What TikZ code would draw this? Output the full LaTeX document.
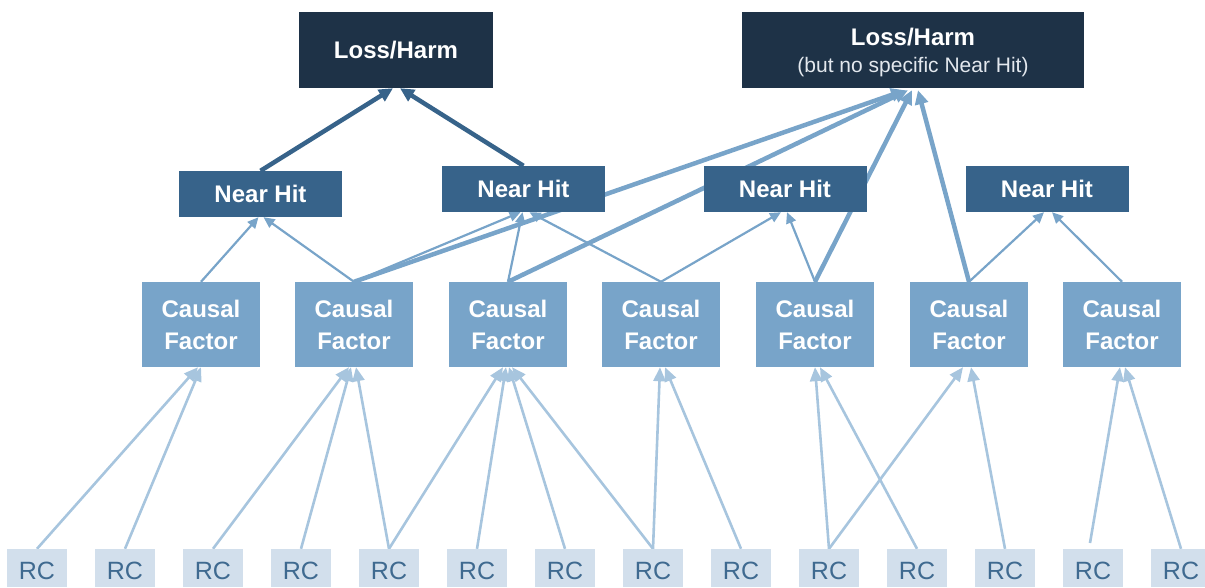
\documentclass[tikz,border=0pt]{standalone}
\usepackage{fontspec}
\setmainfont{Liberation Sans}
\usetikzlibrary{arrows.meta,calc,backgrounds}
\definecolor{lhcol}{HTML}{1E3247}
\definecolor{nhcol}{HTML}{37638A}
\definecolor{cfcol}{HTML}{78A4C9}
\definecolor{rcfill}{HTML}{D2DFEC}
\definecolor{rctext}{HTML}{3F6A90}
\definecolor{rcline}{HTML}{A7C5DE}
\definecolor{subtext}{HTML}{E3E8EE}
\tikzset{
  lhbox/.style={fill=lhcol, text=white, minimum height=76pt, inner sep=0pt, align=center},
  nhbox/.style={fill=nhcol, text=white, minimum width=163pt, minimum height=46pt, inner sep=0pt,
    font=\bfseries\fontsize{24}{28}\selectfont},
  cfbox/.style={fill=cfcol, text=white, minimum width=118pt, minimum height=85pt, inner sep=0pt, align=center,
    font=\bfseries\fontsize{24}{32}\selectfont},
  rcbox/.style={fill=rcfill, minimum width=60pt, minimum height=38pt, inner sep=0pt},
  rclabel/.style={text=rctext, inner sep=0pt, font=\fontsize{25}{28}\selectfont},
  nhlh/.style={draw=nhcol, line width=4.5pt, -{Triangle[length=14pt,width=13pt]}},
  cflh/.style={draw=cfcol, line width=4.5pt, -{Triangle[length=14pt,width=13pt]}},
  cfnh/.style={draw=cfcol, line width=2.2pt, -{Triangle[length=11pt,width=10pt]}},
  rccf/.style={draw=rcline, line width=2.6pt, -{Triangle[length=14pt,width=12pt]}},
}
\begin{document}
\begin{tikzpicture}[x=1pt,y=-1pt]
\useasboundingbox (0,0) rectangle (1205,587);
% top boxes
\node[lhbox, minimum width=194pt, font=\bfseries\fontsize{24}{28}\selectfont] (lh1) at (396,50) {Loss/Harm};
\node[lhbox, minimum width=342pt] (lh2) at (913,50) {};
\node[text=white, inner sep=0pt, font=\bfseries\fontsize{24}{28}\selectfont] (lh2t) at (913,37) {Loss/Harm};
\node[text=subtext, inner sep=0pt, font=\fontsize{21}{24}\selectfont] (lh2s) at (913,67) {(but no specific Near Hit)};
% near hits
\node[nhbox] (nh1) at (260.5,194) {Near Hit};
\node[nhbox] (nh2) at (523.5,189) {Near Hit};
\node[nhbox] (nh3) at (785,189) {Near Hit};
\node[nhbox] (nh4) at (1047,189) {Near Hit};
% causal factors
\foreach \i/\x in {1/201,2/354,3/508,4/661,5/815,6/969,7/1122}{
  \node[cfbox] (cf\i) at (\x,324.5) {Causal\\Factor};
}
% root causes
\foreach \i in {1,...,14}{
  \pgfmathsetmacro{\cx}{37+88*(\i-1)}
  \node[rcbox] (rc\i) at (\cx,568) {};
  \node[rclabel] (rct\i) at (\cx,571) {RC};
}
\coordinate (rc13free) at (1090,543);
\begin{scope}[on background layer]
% near hit -> loss/harm
\draw[nhlh] (nh1.north) -- ($(lh1.south)+(-3,0)$);
\draw[nhlh] (nh2.north) -- ($(lh1.south)+(4,0)$);
% causal factor -> loss/harm (no near hit)
\draw[cflh] (cf2.north) -- ($(lh2.south)+(-8,2)$);
\draw[cflh] (cf3.north) -- ($(lh2.south)+(-5,2)$);
\draw[cflh] (cf5.north) -- ($(lh2.south)+(-1,2)$);
\draw[cflh] (cf6.north) -- ($(lh2.south)+(5,2)$);
% causal factor -> near hit
\draw[cfnh] (cf1.north) -- ($(nh1.south)+(-2,0)$);
\draw[cfnh] (cf2.north) -- ($(nh1.south)+(3,0)$);
\draw[cfnh] (cf2.north) -- ($(nh2.south)+(-3,0)$);
\draw[cfnh] (cf3.north) -- ($(nh2.south)+(-1,0)$);
\draw[cfnh] (cf4.north) -- ($(nh2.south)+(6,0)$);
\draw[cfnh] (cf4.north) -- ($(nh3.south)+(-4,0)$);
\draw[cfnh] (cf5.north) -- ($(nh3.south)+(2,0)$);
\draw[cfnh] (cf6.north) -- ($(nh4.south)+(-3,0)$);
\draw[cfnh] (cf7.north) -- ($(nh4.south)+(5,0)$);
% root cause -> causal factor
\draw[rccf] (rc1.north) -- ($(cf1.south)+(-3,0)$);
\draw[rccf] (rc2.north) -- ($(cf1.south)+(0,0)$);
\draw[rccf] (rc3.north) -- ($(cf2.south)+(-5,0)$);
\draw[rccf] (rc4.north) -- ($(cf2.south)+(-3,0)$);
\draw[rccf] (rc5.north) -- ($(cf2.south)+(2,0)$);
\draw[rccf] (rc5.north) -- ($(cf3.south)+(-5,0)$);
\draw[rccf] (rc6.north) -- ($(cf3.south)+(-2,0)$);
\draw[rccf] (rc7.north) -- ($(cf3.south)+(1,0)$);
\draw[rccf] (rc8.north) -- ($(cf3.south)+(4,0)$);
\draw[rccf] (rc8.north) -- ($(cf4.south)+(-1,0)$);
\draw[rccf] (rc9.north) -- ($(cf4.south)+(4,0)$);
\draw[rccf] (rc10.north) -- ($(cf5.south)+(0,0)$);
\draw[rccf] (rc11.north) -- ($(cf5.south)+(5,0)$);
\draw[rccf] (rc10.north) -- ($(cf6.south)+(-6,0)$);
\draw[rccf] (rc12.north) -- ($(cf6.south)+(2,0)$);
\draw[rccf] (rc13free) -- ($(cf7.south)+(-2,0)$);
\draw[rccf] (rc14.north) -- ($(cf7.south)+(3,0)$);
\end{scope}
\end{tikzpicture}
\end{document}
